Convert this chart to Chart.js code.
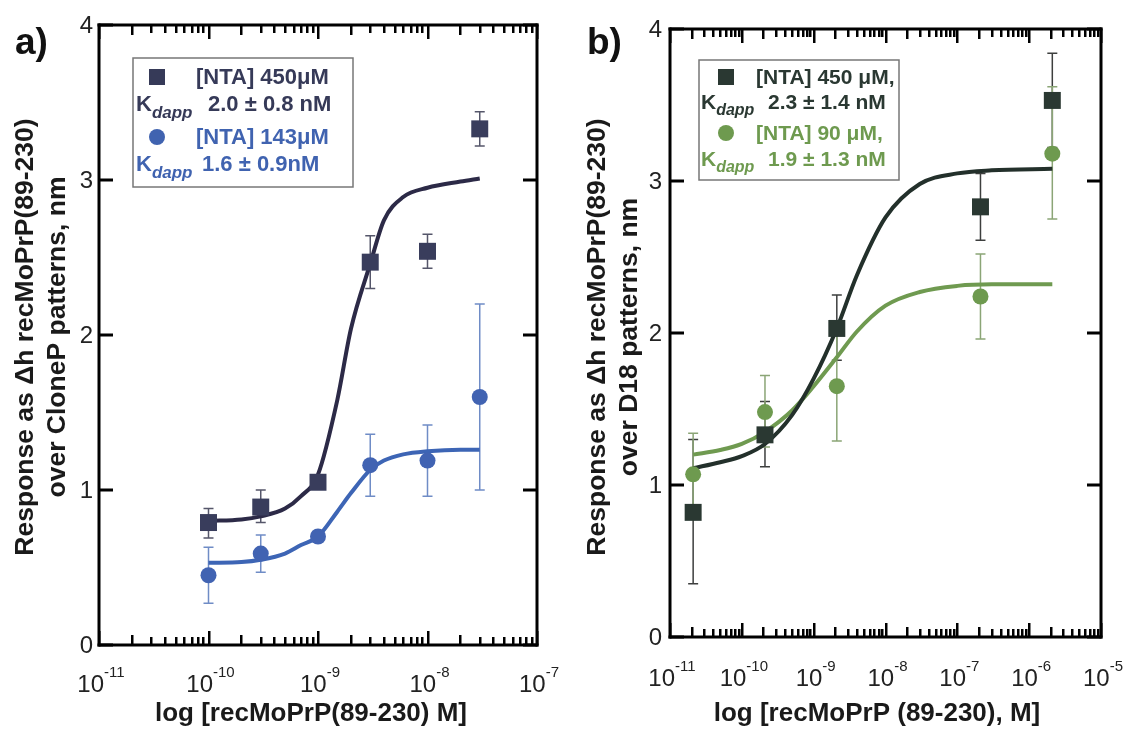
<!DOCTYPE html>
<html>
<head>
<meta charset="utf-8">
<script src="https://cdn.jsdelivr.net/npm/chart.js@4/dist/chart.umd.min.js"></script>
<style>
  body { margin: 0; background: #fff; }
  .wrap { position: relative; width: 1124px; height: 731px; }
  canvas { position: absolute; top: 0; }
</style>
</head>
<body>
<div class="wrap">
  <canvas id="chartA" width="562" height="731" style="left:0"></canvas>
  <canvas id="chartB" width="562" height="731" style="left:562px"></canvas>
</div>
<script>
// ---- panel a data ----
const concA = [1e-10, 3e-10, 1e-9, 3e-9, 1e-8, 3e-8];
const nta450A = [0.79, 0.89, 1.05, 2.47, 2.54, 3.33];
const nta450A_lo = [0.69, 0.79, 1.03, 2.30, 2.43, 3.22];
const nta450A_hi = [0.88, 1.00, 1.07, 2.64, 2.65, 3.44];
const nta143A = [0.45, 0.59, 0.70, 1.16, 1.19, 1.60];
const nta143A_lo = [0.27, 0.47, 0.69, 0.96, 0.96, 1.00];
const nta143A_hi = [0.63, 0.71, 0.71, 1.36, 1.42, 2.20];
// fitted curves
const fitConcA = [1e-10, 2e-10, 3e-10, 5e-10, 7e-10, 1e-9, 1.5e-9, 2e-9, 3e-9, 4e-9, 6e-9, 1e-8, 2e-8, 3e-8];
const fit450A = [0.80, 0.81, 0.83, 0.88, 0.96, 1.10, 1.58, 2.04, 2.46, 2.74, 2.89, 2.95, 2.99, 3.01];
const fit143A = [0.53, 0.535, 0.55, 0.59, 0.645, 0.70, 0.86, 0.98, 1.13, 1.19, 1.23, 1.25, 1.26, 1.26];
const expA = [-11, -10, -9, -8, -7];

// ---- panel b data ----
const concB = [2.1e-11, 2.1e-10, 2.1e-9, 2.1e-7, 2.1e-6];
const nta450B = [0.82, 1.33, 2.03, 2.83, 3.53];
const nta450B_lo = [0.35, 1.12, 1.82, 2.61, 3.22];
const nta450B_hi = [1.30, 1.55, 2.25, 3.05, 3.84];
const nta90B = [1.07, 1.48, 1.65, 2.24, 3.18];
const nta90B_lo = [0.80, 1.25, 1.29, 1.96, 2.75];
const nta90B_hi = [1.34, 1.72, 2.01, 2.52, 3.62];
const fitConcB = [2.1e-11, 5e-11, 1e-10, 2.1e-10, 5e-10, 1e-9, 2.1e-9, 4e-9, 1e-8, 3e-8, 1e-7, 3e-7, 2.1e-6];
const fit450B = [1.11, 1.15, 1.19, 1.27, 1.46, 1.70, 2.03, 2.38, 2.76, 2.98, 3.05, 3.07, 3.08];
const fit90B = [1.20, 1.23, 1.27, 1.35, 1.49, 1.65, 1.84, 2.01, 2.18, 2.27, 2.31, 2.32, 2.32];
const expB = [-11, -10, -9, -8, -7, -6, -5];

const yTicks = [0, 1, 2, 3, 4];

const pts = (xs, ys) => xs.map((x, i) => ({ x: x, y: ys[i] }));

// inward tick marks on all four sides
function drawTicks(ctx, a, xs, ys, exps) {
  const e0 = exps[0], e1 = exps[exps.length - 1];
  const xmax = Math.pow(10, e1) * 1.0001;
  ctx.fillStyle = '#000';
  for (let e = e0; e <= e1; e++) {
    for (let k = 1; k <= 9; k++) {
      const v = k * Math.pow(10, e);
      if (v > xmax) break;
      const px = Math.round(xs.getPixelForValue(v));
      const len = k === 1 ? 14 : (k === 2 ? 10 : 8);
      ctx.fillRect(px - 1, a.bottom - len, 2.5, len);
      ctx.fillRect(px - 1, a.top, 2.5, len);
    }
  }
  for (let i = 0; i < yTicks.length; i++) {
    const py = Math.round(ys.getPixelForValue(yTicks[i]));
    ctx.fillRect(a.left, py - 1.5, 14, 3);
    ctx.fillRect(a.right - 14, py - 1.5, 14, 3);
  }
}

// draws frame, tick labels, titles, error bars and the boxed legend
const decor = {
  id: 'decor',
  beforeDatasetsDraw(chart, args, o) {
    const ctx = chart.ctx, xs = chart.scales.x, ys = chart.scales.y;
    ctx.save();
    o.errors.forEach(e => {
      ctx.strokeStyle = e.color;
      ctx.lineWidth = 1.5;
      e.x.forEach((xv, i) => {
        const px = xs.getPixelForValue(xv);
        const p1 = ys.getPixelForValue(e.lo[i]), p2 = ys.getPixelForValue(e.hi[i]);
        ctx.beginPath();
        ctx.moveTo(px, p1); ctx.lineTo(px, p2);
        ctx.moveTo(px - 5, p1); ctx.lineTo(px + 5, p1);
        ctx.moveTo(px - 5, p2); ctx.lineTo(px + 5, p2);
        ctx.stroke();
      });
    });
    ctx.restore();
  },
  afterDraw(chart, args, o) {
    const ctx = chart.ctx, xs = chart.scales.x, ys = chart.scales.y;
    const a = {
      left: Math.round(chart.chartArea.left), right: Math.round(chart.chartArea.right),
      top: Math.round(chart.chartArea.top), bottom: Math.round(chart.chartArea.bottom)
    };
    ctx.save();
    // frame
    ctx.fillStyle = '#000';
    ctx.fillRect(a.left - 1.5, a.top - 1.5, a.right - a.left + 3, 3);
    ctx.fillRect(a.left - 1.5, a.bottom - 1.5, a.right - a.left + 3, 3);
    ctx.fillRect(a.left - 1.5, a.top - 1.5, 3, a.bottom - a.top + 3);
    ctx.fillRect(a.right - 1.5, a.top - 1.5, 3, a.bottom - a.top + 3);

    // y tick labels
    ctx.fillStyle = '#222';
    ctx.font = '24px "Liberation Sans", Arial, sans-serif';
    ctx.textAlign = 'right';
    ctx.textBaseline = 'middle';
    yTicks.forEach(t => ctx.fillText(String(t), o.yLabelRight, ys.getPixelForValue(t) + 1));

    // x tick labels 10^n
    o.exps.forEach(e => {
      const px = xs.getPixelForValue(Math.pow(10, e));
      ctx.font = '24px "Liberation Sans", Arial, sans-serif';
      const w1 = ctx.measureText('10').width;
      ctx.font = '15px "Liberation Sans", Arial, sans-serif';
      const sup = String(e);
      const w2 = ctx.measureText(sup).width;
      const x0 = px - (w1 + w2) / 2 + 2;
      ctx.textAlign = 'left';
      ctx.textBaseline = 'alphabetic';
      ctx.font = '24px "Liberation Sans", Arial, sans-serif';
      ctx.fillText('10', x0, o.xLabelBase);
      ctx.font = '15px "Liberation Sans", Arial, sans-serif';
      ctx.fillText(sup, x0 + w1, o.xLabelBase - 15);
    });

    // axis titles
    ctx.fillStyle = '#1a1a1a';
    ctx.font = 'bold 26px "Liberation Sans", Arial, sans-serif';
    ctx.textAlign = 'center';
    ctx.textBaseline = 'middle';
    ctx.fillText(o.xTitle, o.xTitleX, 714);
    ctx.font = 'bold 26.5px "Liberation Sans", Arial, sans-serif';
    o.yTitle.forEach((line, i) => {
      ctx.save();
      ctx.translate(o.yTitleX[i], 337);
      ctx.rotate(-Math.PI / 2);
      ctx.fillText(line, 0, 0);
      ctx.restore();
    });

    // panel letter
    ctx.font = 'bold 37px "Liberation Sans", Arial, sans-serif';
    ctx.textAlign = 'left';
    ctx.textBaseline = 'alphabetic';
    ctx.fillStyle = '#111';
    ctx.fillText(o.panel, o.panelX, 54);

    // legend box
    const L = o.legend;
    ctx.fillStyle = '#fff';
    ctx.fillRect(L.box[0], L.box[1], L.box[2] - L.box[0], L.box[3] - L.box[1]);
    ctx.strokeStyle = '#777';
    ctx.lineWidth = 1.5;
    ctx.strokeRect(L.box[0], L.box[1], L.box[2] - L.box[0], L.box[3] - L.box[1]);
    L.items.forEach(it => {
      ctx.fillStyle = it.color;
      if (it.marker === 'rect') {
        ctx.fillRect(L.markerX - 8, it.y1 - 8, 16, 16);
      } else {
        ctx.beginPath();
        ctx.arc(L.markerX, it.y1, 8, 0, Math.PI * 2);
        ctx.fill();
      }
      ctx.textBaseline = 'middle';
      ctx.textAlign = 'left';
      ctx.font = 'bold ' + L.size + 'px "Liberation Sans", Arial, sans-serif';
      ctx.fillText(it.label, L.textX, it.y1 + 1);
      ctx.fillText('K', L.kX, it.y2);
      const kw = ctx.measureText('K').width;
      ctx.font = 'italic bold ' + Math.round(L.size * 0.78) + 'px "Liberation Sans", Arial, sans-serif';
      ctx.fillText('dapp', L.kX + kw, it.y2 + 8);
      ctx.font = 'bold ' + L.size + 'px "Liberation Sans", Arial, sans-serif';
      ctx.fillText(it.kd, it.kdX, it.y2);
    });

    drawTicks(ctx, a, xs, ys, o.exps.slice());
    ctx.restore();
  }
};

function baseOptions(pad, xmin, xmax) {
  return {
    responsive: false,
    animation: false,
    devicePixelRatio: 1,
    layout: { padding: pad },
    scales: {
      x: {
        type: 'logarithmic', min: xmin, max: xmax,
        ticks: { display: false }, grid: { display: false }, border: { display: false },
        afterFit: s => { s.height = 0; }
      },
      y: {
        min: 0, max: 4,
        ticks: { display: false }, grid: { display: false }, border: { display: false },
        afterFit: s => { s.width = 0; }
      }
    },
    plugins: { legend: { display: false }, tooltip: { enabled: false } }
  };
}

function curve(xs, ys, color) {
  return {
    type: 'line', data: pts(xs, ys), borderColor: color, borderWidth: 4,
    pointRadius: 0, cubicInterpolationMode: 'monotone', fill: false, order: 2
  };
}
function markers(xs, ys, color, style, r) {
  return {
    type: 'scatter', data: pts(xs, ys), backgroundColor: color, borderWidth: 0,
    pointStyle: style, pointRadius: r, order: 1
  };
}

// panel a
const optA = baseOptions({ left: 99, top: 25, right: 25, bottom: 86 }, 1e-11, 1e-7);
optA.plugins.decor = {
  exps: expA, yLabelRight: 93, xLabelBase: 692, panel: 'a)', panelX: 15,
  xTitle: 'log [recMoPrP(89-230) M]', xTitleX: 311,
  yTitle: ['Response as \u0394h recMoPrP(89-230)', 'over CloneP patterns, nm'], yTitleX: [26, 58],
  errors: [
    { x: concA, lo: nta450A_lo, hi: nta450A_hi, color: '#55566a' },
    { x: concA, lo: nta143A_lo, hi: nta143A_hi, color: '#6f8cc6' }
  ],
  legend: {
    box: [133, 58, 353, 187], markerX: 157, textX: 196, kX: 136, size: 22,
    items: [
      { marker: 'rect', color: '#363a58', label: '[NTA] 450\u03bcM', y1: 77, y2: 105, kd: '2.0 \u00b1 0.8 nM', kdX: 208 },
      { marker: 'circle', color: '#4063b0', label: '[NTA] 143\u03bcM', y1: 137, y2: 165, kd: '1.6 \u00b1 0.9nM', kdX: 202 }
    ]
  }
};
new Chart(document.getElementById('chartA'), {
  type: 'scatter',
  data: {
    datasets: [
      curve(fitConcA, fit450A, '#2c2a47'),
      curve(fitConcA, fit143A, '#3d65b5'),
      markers(concA, nta450A, '#393d5c', 'rect', 12),
      markers(concA, nta143A, '#4163b2', 'circle', 8)
    ]
  },
  options: optA,
  plugins: [decor]
});

// panel b
const optB = baseOptions({ left: 108, top: 29, right: 23, bottom: 94 }, 1e-11, 1e-5);
optB.plugins.decor = {
  exps: expB, yLabelRight: 100, xLabelBase: 686, panel: 'b)', panelX: 25,
  xTitle: 'log [recMoPrP (89-230), M]', xTitleX: 315,
  yTitle: ['Response as \u0394h recMoPrP(89-230)', 'over D18 patterns, nm'], yTitleX: [36, 68],
  errors: [
    { x: concB, lo: nta450B_lo, hi: nta450B_hi, color: '#3d3f3e' },
    { x: concB, lo: nta90B_lo, hi: nta90B_hi, color: '#8ba576' }
  ],
  legend: {
    box: [137, 60, 337, 180], markerX: 164, textX: 194, kX: 139, size: 21,
    items: [
      { marker: 'rect', color: '#2a3832', label: '[NTA] 450 \u03bcM,', y1: 77, y2: 103, kd: '2.3 \u00b1 1.4 nM', kdX: 206 },
      { marker: 'circle', color: '#6e9a4f', label: '[NTA] 90 \u03bcM,', y1: 133, y2: 160, kd: '1.9 \u00b1 1.3 nM', kdX: 206 }
    ]
  }
};
new Chart(document.getElementById('chartB'), {
  type: 'scatter',
  data: {
    datasets: [
      curve(fitConcB, fit450B, '#23302b'),
      curve(fitConcB, fit90B, '#6f9a50'),
      markers(concB, nta450B, '#2a3832', 'rect', 12),
      markers(concB, nta90B, '#6e9a4f', 'circle', 8)
    ]
  },
  options: optB,
  plugins: [decor]
});
</script>
</body>
</html>
